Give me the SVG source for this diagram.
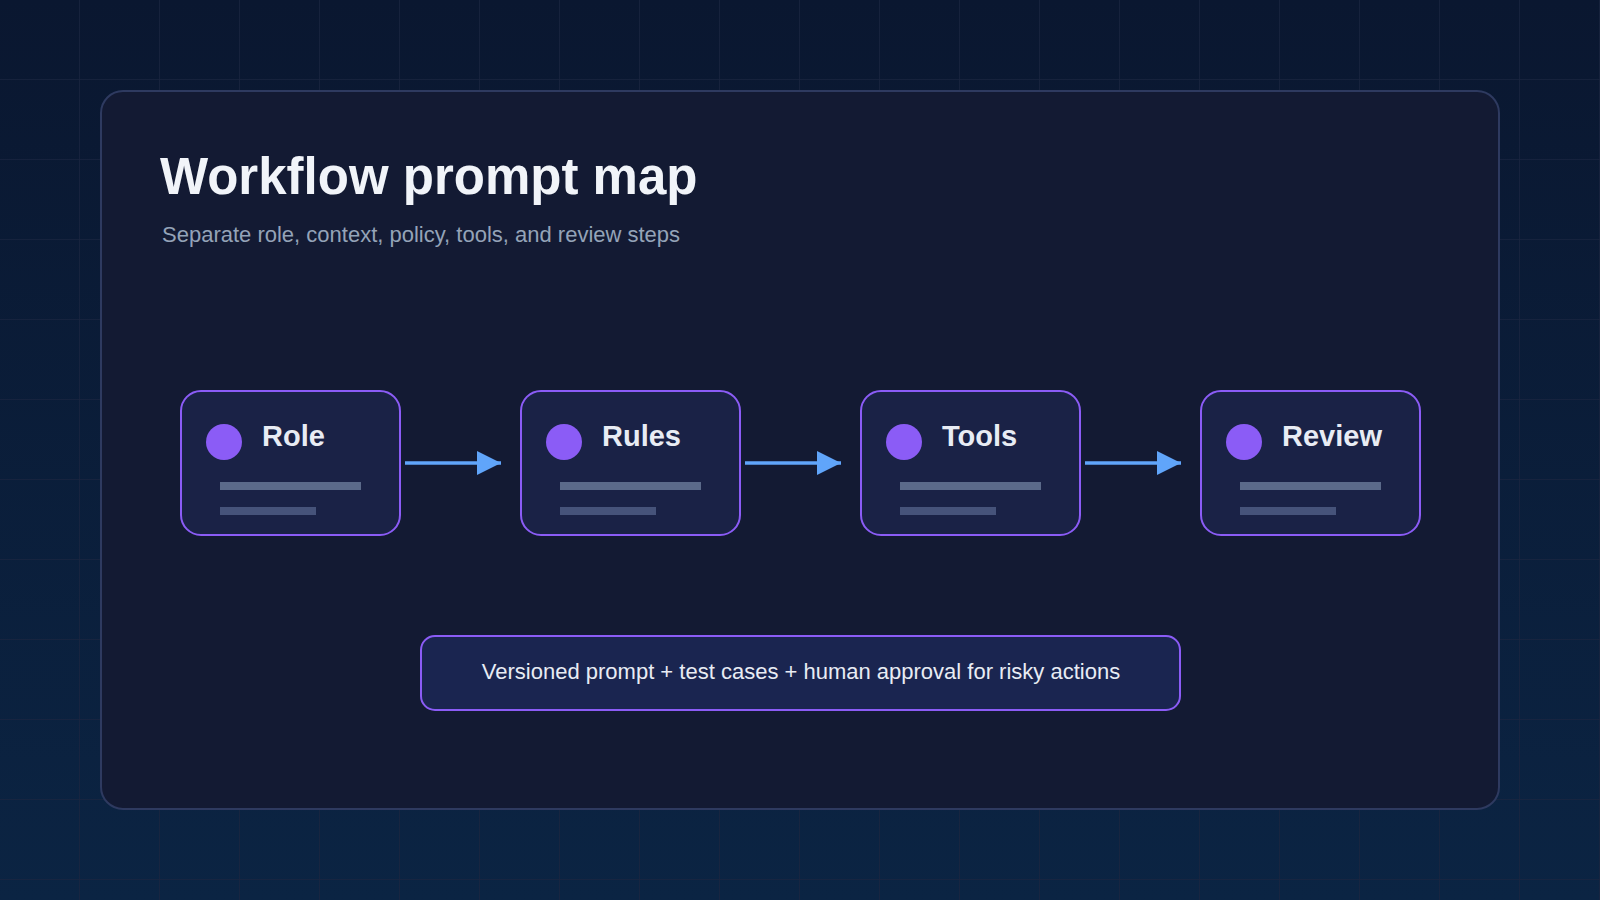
<svg xmlns="http://www.w3.org/2000/svg" width="1600" height="900" viewBox="0 0 1600 900">
<defs>
<linearGradient id="bg" x1="0" y1="0" x2="0" y2="1"><stop offset="0" stop-color="#0a1730"/><stop offset="1" stop-color="#0b2443"/></linearGradient>
<pattern id="grid" width="80" height="80" patternUnits="userSpaceOnUse"><path d="M80 0V80M0 80H80" fill="none" stroke="#1a2540" stroke-width="1.5"/></pattern>
<marker id="ah" viewBox="0 0 10 10" refX="10" refY="5" markerWidth="24" markerHeight="24" markerUnits="userSpaceOnUse" orient="auto"><path d="M0 0L10 5L0 10z" fill="#60a5fa"/></marker>
<style>
.node rect.box{fill:#1a2246;stroke:#8b5cf6;stroke-width:2}
.dot{fill:#8b5cf6}
.lbl{font-family:"Liberation Sans",Arial,sans-serif;font-weight:bold;font-size:29px;fill:#e8ecf4}
.b1{fill:#5b6a8a}.b2{fill:#46537a}
.conn line{stroke:#60a5fa;stroke-width:3.5;marker-end:url(#ah)}
</style>
</defs>
<rect width="1600" height="900" fill="url(#bg)"/>
<rect width="1600" height="900" fill="url(#grid)"/>
<rect x="101" y="91" width="1398" height="718" rx="22" fill="#131a33" stroke="#2e3a60" stroke-width="2"/>
<text x="160" y="194" font-family="Liberation Sans,Arial,sans-serif" font-weight="bold" font-size="51" fill="#f1f4f9">Workflow prompt map</text>
<text x="162" y="242" font-family="Liberation Sans,Arial,sans-serif" font-size="22" fill="#94a3b8">Separate role, context, policy, tools, and review steps</text>
<g id="node-role" class="node"><rect class="box" x="181" y="391" width="219" height="144" rx="20"/><circle class="dot" cx="224" cy="442" r="18"/><text class="lbl" x="262" y="446">Role</text><rect class="b1" x="220" y="482" width="141" height="8"/><rect class="b2" x="220" y="507" width="96" height="8"/></g>
<g id="node-rules" class="node"><rect class="box" x="521" y="391" width="219" height="144" rx="20"/><circle class="dot" cx="564" cy="442" r="18"/><text class="lbl" x="602" y="446">Rules</text><rect class="b1" x="560" y="482" width="141" height="8"/><rect class="b2" x="560" y="507" width="96" height="8"/></g>
<g id="node-tools" class="node"><rect class="box" x="861" y="391" width="219" height="144" rx="20"/><circle class="dot" cx="904" cy="442" r="18"/><text class="lbl" x="942" y="446">Tools</text><rect class="b1" x="900" y="482" width="141" height="8"/><rect class="b2" x="900" y="507" width="96" height="8"/></g>
<g id="node-review" class="node"><rect class="box" x="1201" y="391" width="219" height="144" rx="20"/><circle class="dot" cx="1244" cy="442" r="18"/><text class="lbl" x="1282" y="446">Review</text><rect class="b1" x="1240" y="482" width="141" height="8"/><rect class="b2" x="1240" y="507" width="96" height="8"/></g>
<g id="connectors" class="conn">
<line x1="405" y1="463" x2="501" y2="463"/>
<line x1="745" y1="463" x2="841" y2="463"/>
<line x1="1085" y1="463" x2="1181" y2="463"/>
</g>
<g id="note"><rect x="421" y="636" width="759" height="74" rx="14" fill="#1a2550" stroke="#8b5cf6" stroke-width="2"/>
<text x="801" y="679" text-anchor="middle" font-family="Liberation Sans,Arial,sans-serif" font-size="22" fill="#e8ecf4">Versioned prompt + test cases + human approval for risky actions</text></g>
</svg>
